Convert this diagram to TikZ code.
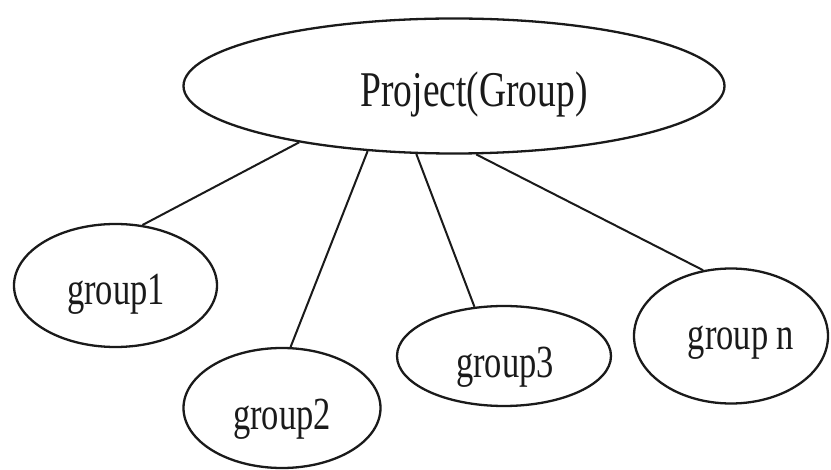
\documentclass[tikz,border=0pt]{standalone}
\usepackage{fontspec}
\setmainfont{Liberation Serif}
\usetikzlibrary{shapes.geometric}
\definecolor{ink}{HTML}{1A1A1A}
\tikzset{
  oval/.style={ellipse, draw=ink, line width=2.3pt, inner sep=0pt},
  conn/.style={draw=ink, line width=2pt},
  lbl/.style={anchor=base, inner sep=0pt, text=ink, font=\fontsize{46}{50}\selectfont},
  biglbl/.style={anchor=base, inner sep=0pt, text=ink, font=\fontsize{50}{54}\selectfont}
}
\newcommand{\narrow}[1]{\scalebox{0.75}[1]{#1}}
\begin{document}
\begin{tikzpicture}[x=1pt,y=-1pt]
\fill[white] (0,0) rectangle (831,470);
\useasboundingbox (0,0) rectangle (831,470);
% ellipses
\node[oval, minimum width=541pt, minimum height=135pt] (P) at (454,86) {};
\node[oval, minimum width=203pt, minimum height=123pt] (g1) at (115.5,285.5) {};
\node[oval, minimum width=197pt, minimum height=120pt] (g2) at (282,408) {};
\node[oval, minimum width=214pt, minimum height=100pt] (g3) at (504,356) {};
\node[oval, minimum width=194pt, minimum height=135pt] (gn) at (731,336) {};
% labels
\node[biglbl] (Pt) at (474,107) {\narrow{Project(Group)}};
\node[lbl] (g1t) at (116,305) {\narrow{group1}};
\node[lbl] (g2t) at (282,430) {\narrow{group2}};
\node[lbl] (g3t) at (505,378) {\narrow{group3}};
\node[lbl] (gnt) at (741,350) {\narrow{group n}};
% connectors
\draw[conn] (P.200.1) -- (g1.66.6);
\draw[conn] (P.217.6) -- (g2.82.6);
\draw[conn] (P.241.2) -- (g3.121.3);
\draw[conn] (P.288.4) -- (gn.113);
\end{tikzpicture}
\end{document}
